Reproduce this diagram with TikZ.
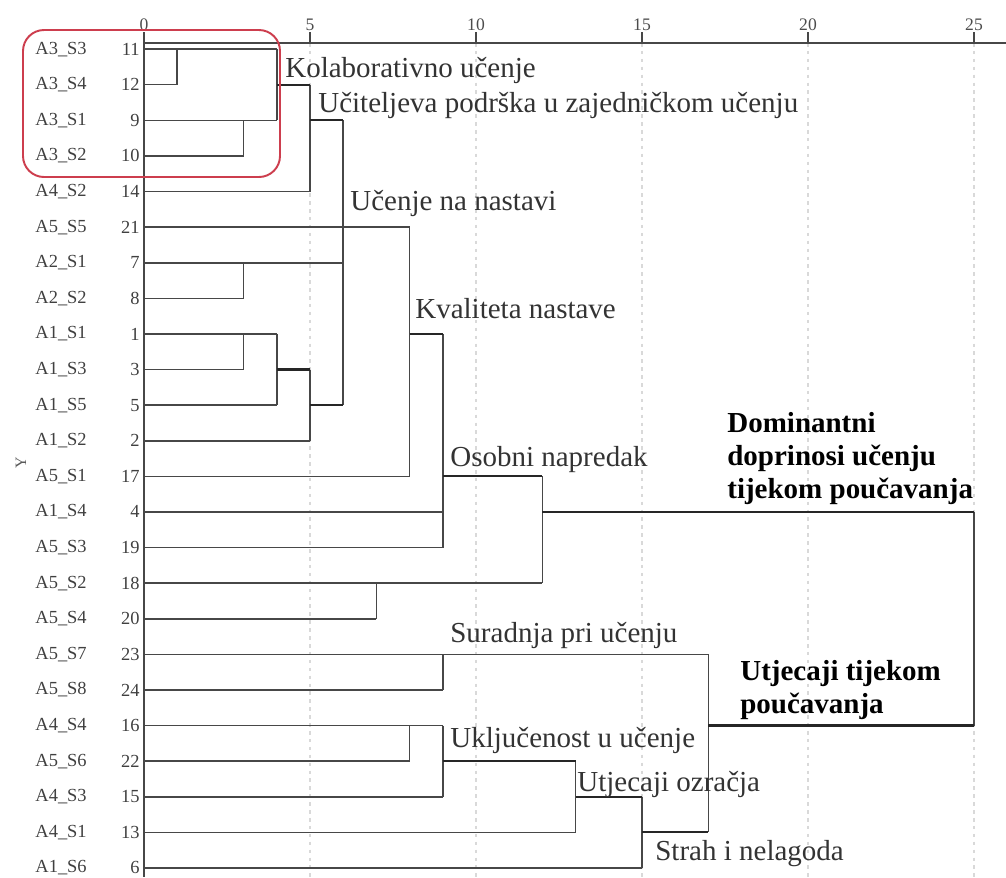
\documentclass[tikz,border=0pt]{standalone}
\usepackage{fontspec}
\setmainfont{LiberationSerif}[Extension=.ttf, UprightFont=*-Regular, BoldFont=*-Bold, ItalicFont=*-Italic, BoldItalicFont=*-BoldItalic]
\definecolor{boxred}{RGB}{205,62,78}
\begin{document}
\begin{tikzpicture}[
        link/.style = {draw=black!72, line width=0.9pt},
        joint/.style = {draw=black!85, line width=1.2pt},
        gridline/.style = {draw=black!15, dash pattern=on 2pt off 2.5pt, line width=0.8pt},
        caseid/.style = {font=\fontsize{10.5}{12}\selectfont, text=black!75, inner sep=0pt, anchor=west},
        casenum/.style = {font=\fontsize{10.5}{12}\selectfont, text=black!75, inner sep=0pt, anchor=east},
        ticklabel/.style = {font=\fontsize{10}{12}\selectfont, text=black!70, inner sep=0pt, anchor=south},
        cluster/.style = {font=\fontsize{16.5}{19}\selectfont, text=black!80, inner sep=0pt, anchor=base west},
        group/.style = {font=\fontsize{16.5}{18.8}\selectfont\bfseries, text=black, inner sep=0pt, anchor=north west, align=left}
    ]
    \useasboundingbox (0,0) rectangle (20.12,-17.54);

    % ================= OSI I MREŽA =================
    \foreach \d in {5,10,15,20,25}
        \draw[gridline] (2.88+0.664*\d,-0.86) -- (2.88+0.664*\d,-17.54);
    \draw[link] (2.88,-0.86) -- (20.12,-0.86);
    \draw[link] (2.88,-0.86) -- (2.88,-17.54);
    \foreach \d in {0,5,10,15,20,25} {
        \draw[link] (2.88+0.664*\d,-0.86) -- (2.88+0.664*\d,-0.64);
        \node[ticklabel] (tick\d) at (2.88+0.664*\d,-0.62) {\d};
    }
    \node[font=\fontsize{9}{10}\selectfont, text=black!65, rotate=90] (ylab) at (0.42,-9.26) {Y};

    % ================= DENDROGRAM =================
    \begin{scope}[shift={(2.88cm,-0.27cm)}, x=0.664cm, y=-0.712cm]
        % listovi
        \foreach \r/\id/\num/\e in {
            1/A3\_S3/11/4, 2/A3\_S4/12/1, 3/A3\_S1/9/4, 4/A3\_S2/10/3,
            5/A4\_S2/14/5, 6/A5\_S5/21/8, 7/A2\_S1/7/6, 8/A2\_S2/8/3,
            9/A1\_S1/1/4, 10/A1\_S3/3/3, 11/A1\_S5/5/4, 12/A1\_S2/2/5,
            13/A5\_S1/17/8, 14/A1\_S4/4/9, 15/A5\_S3/19/9, 16/A5\_S2/18/12,
            17/A5\_S4/20/7, 18/A5\_S7/23/17, 19/A5\_S8/24/9, 20/A4\_S4/16/9,
            21/A5\_S6/22/8, 22/A4\_S3/15/9, 23/A4\_S1/13/13, 24/A1\_S6/6/15} {
            \node[caseid] (id\r) at (-3.28,\r) {\id};
            \node[casenum] (num\r) at (-0.12,\r) {\num};
            \draw[link] (0,\r) -- (\e,\r);
        }
        % spojevi
        \foreach \d/\a/\b in {1/1/2, 3/3/4, 4/1/3, 5/2/5, 6/3/11, 3/7/8,
            3/9/10, 4/9/11, 5/10/12, 8/6/13, 9/9/15, 12/13/16, 7/16/17,
            9/18/19, 8/20/21, 9/20/22, 13/21/23, 15/22/24, 17/18/23, 25/14/20}
            \draw[link] (\d,\a) -- (\d,\b);
        \foreach \r/\a/\b in {2/4/5, 3/5/6, 9/8/9, 10/4/5, 11/5/6, 13/9/12,
            14/12/25, 21/9/13, 22/13/15, 23/15/17, 20/17/25}
            \draw[joint] (\a,\r) -- (\b,\r);
    \end{scope}

    % ================= OZNAKE KLASTERA =================
    \draw[boxred, line width=1.1pt, rounded corners=0.42cm] (0.46,-0.6) rectangle (5.6,-3.54);
    \node[cluster] (kol) at (5.70,-1.54) {Kolaborativno učenje};
    \node[cluster] (ucit) at (6.36,-2.24) {Učiteljeva podrška u zajedničkom učenju};
    \node[cluster] (nast) at (7.0,-4.2) {Učenje na nastavi};
    \node[cluster] (kval) at (8.3,-6.36) {Kvaliteta nastave};
    \node[cluster] (osob) at (9.0,-9.32) {Osobni napredak};
    \node[cluster] (surad) at (9.0,-12.84) {Suradnja pri učenju};
    \node[cluster] (uklj) at (9.0,-14.94) {Uključenost u učenje};
    \node[cluster] (ozr) at (11.54,-15.82) {Utjecaji ozračja};
    \node[cluster] (strah) at (13.1,-17.2) {Strah i nelagoda};
    \node[group] (domin) at (14.54,-8.24) {Dominantni\\doprinosi učenju\\tijekom poučavanja};
    \node[group] (utj) at (14.8,-13.2) {Utjecaji tijekom\\poučavanja};

    \end{tikzpicture}
\end{document}
